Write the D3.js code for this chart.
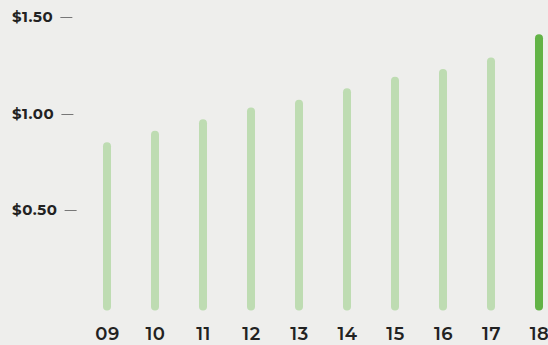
<!DOCTYPE html>
<html>
<head>
<meta charset="utf-8">
<script src="https://cdn.jsdelivr.net/npm/d3@7"></script>
<style>
  html, body { margin: 0; padding: 0; background: #eeeeec; }
  svg { display: block; }
</style>
</head>
<body>
<svg id="chart" width="548" height="345"></svg>
<script>
// Annual dividend per share, fiscal years 2009–2018
const years = ["09", "10", "11", "12", "13", "14", "15", "16", "17", "18"];
const dividends = [0.83, 0.89, 0.95, 1.01, 1.05, 1.11, 1.17, 1.21, 1.27, 1.39];
const tickValues = [0.5, 1.0, 1.5];
const tickLabels = ["$0.50", "$1.00", "$1.50"];

const svg = d3.select("#chart");

const x = d3.scalePoint()
  .domain(years)
  .range([107, 539]);

const y = d3.scaleLinear()
  .domain([0, 1.5])
  .range([306.5, 17]);

// Bars as thick rounded strokes; latest year highlighted
svg.append("g")
  .selectAll("line")
  .data(years.map((yr, i) => ({ yr, v: dividends[i], last: i === years.length - 1 })))
  .join("line")
  .attr("x1", d => x(d.yr))
  .attr("x2", d => x(d.yr))
  .attr("y1", y(0))
  .attr("y2", d => y(d.v))
  .attr("stroke", d => d.last ? "#62b346" : "#bedcb2")
  .attr("stroke-width", 8)
  .attr("stroke-linecap", "round");

// X-axis year labels
const xAxis = d3.axisBottom(x).tickSize(0).tickPadding(0);
const xg = svg.append("g")
  .attr("transform", "translate(0,327)")
  .call(xAxis);
xg.select(".domain").remove();
xg.selectAll("text")
  .attr("dy", "0.71em")
  .attr("fill", "#222")
  .style("font-family", "Montserrat, 'Open Sans', sans-serif")
  .style("font-weight", "600")
  .style("font-size", "18px")
  .style("letter-spacing", "0.5px");

// Y-axis labels followed by a short dash
const yg = svg.append("g");
tickValues.forEach((v, i) => {
  const t = yg.append("text")
    .attr("x", 12)
    .attr("y", y(v))
    .attr("dy", "0.35em")
    .attr("fill", "#222")
    .style("font-family", "Montserrat, 'Open Sans', sans-serif")
    .style("font-weight", "700")
    .style("font-size", "15px")
    .style("letter-spacing", "0.6px")
    .text(tickLabels[i]);
  const w = t.node().getComputedTextLength();
  yg.append("line")
    .attr("x1", 12 + w + 7)
    .attr("x2", 12 + w + 19)
    .attr("y1", Math.round(y(v)) + 0.5)
    .attr("y2", Math.round(y(v)) + 0.5)
    .attr("stroke", "#777")
    .attr("stroke-width", 1);
});
</script>
</body>
</html>
